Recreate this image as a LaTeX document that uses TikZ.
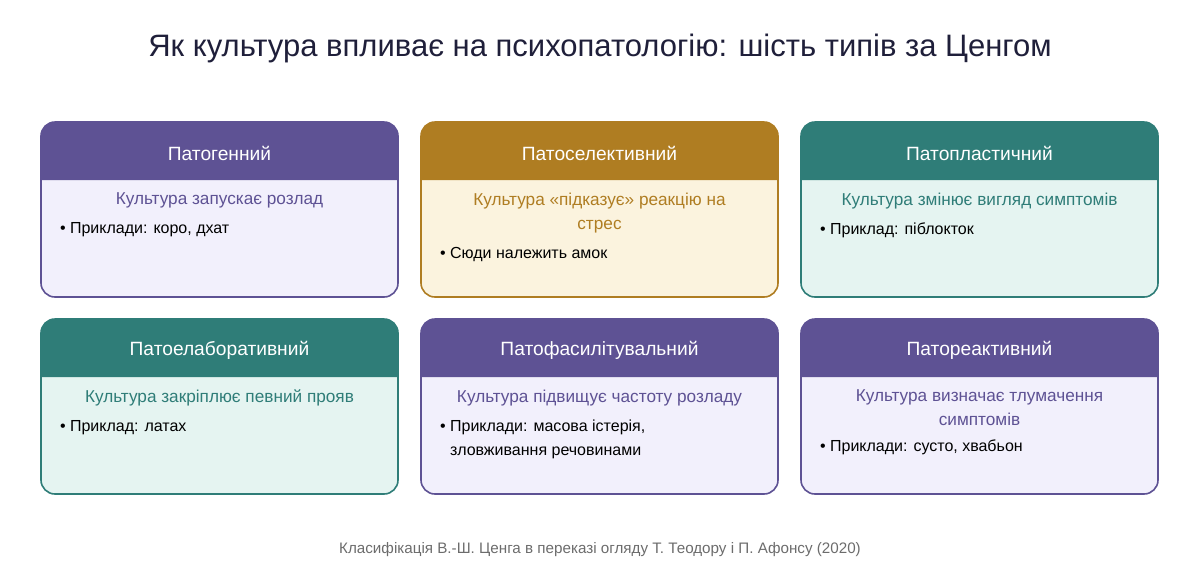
\documentclass[tikz,border=0pt]{standalone}
\usepackage{fontspec}
\setmainfont{Liberation Sans}
\usetikzlibrary{positioning}
\definecolor{violet}{HTML}{5E5294}
\definecolor{violetbg}{HTML}{F2F0FC}
\definecolor{gold}{HTML}{AF7D22}
\definecolor{goldbg}{HTML}{FBF3DE}
\definecolor{teal}{HTML}{2F7D78}
\definecolor{tealbg}{HTML}{E5F4F1}
\definecolor{ink}{HTML}{1F1F3A}
\tikzset{
  head/.style={text=white, font=\fontsize{9.6}{11}\selectfont},
  sub/.style={font=\fontsize{8.6}{12}\selectfont, align=center, anchor=north},
  item/.style={font=\fontsize{8}{12}\selectfont, align=left, anchor=north west, text=black},
}
% card: name, left x, top y, colour, title, subtitle, items
\newcommand{\card}[7]{
  \fill[#4bg, rounded corners=7pt] (#2,#3) rectangle ++(357,175);
  \fill[#4, rounded corners=7pt] (#2,#3+58) -- (#2,#3) -- (#2+357,#3) [sharp corners] -- (#2+357,#3+58) -- cycle;
  \draw[#4, line width=0.8pt, rounded corners=7pt] (#2,#3) rectangle ++(357,175);
  \node[head] (#1h) at (#2+178.5,#3+31) {#5};
  \node[sub, text=#4] (#1s) at (#2+178.5,#3+64) {#6};
  \coordinate (#1l) at (#2+12,0);
  \node[item] (#1i) at (#1s.south -| #1l) {#7};
}
\begin{document}
\begin{tikzpicture}[x=0.5pt,y=-0.5pt]
  \useasboundingbox (0,0) rectangle (1200,586);
  % Title
  \node[text=ink, font=\fontsize{15.5}{18}\selectfont] (title) at (600,48) {Як культура впливає на психопатологію: шість типів за Ценгом};

  % Row 1
  \card{pg}{41}{122}{violet}{Патогенний}{Культура запускає розлад}{• Приклади: коро, дхат}
  \card{ps}{421}{122}{gold}{Патоселективний}{Культура «підказує» реакцію на\\стрес}{• Сюди належить амок}
  \card{pp}{801}{122}{teal}{Патопластичний}{Культура змінює вигляд симптомів}{• Приклад: піблокток}

  % Row 2
  \card{pe}{41}{319}{teal}{Патоелаборативний}{Культура закріплює певний прояв}{• Приклад: латах}
  \card{pf}{421}{319}{violet}{Патофасилітувальний}{Культура підвищує частоту розладу}{• Приклади: масова істерія,\\\hphantom{• }зловживання речовинами}
  \card{pr}{801}{319}{violet}{Патореактивний}{Культура визначає тлумачення\\симптомів}{• Приклади: сусто, хвабьон}

  % Source
  \node[text=gray!85!black, font=\fontsize{7.6}{9}\selectfont] (src) at (600,550) {Класифікація В.-Ш. Ценга в переказі огляду Т. Теодору і П. Афонсу (2020)};
\end{tikzpicture}
\end{document}
